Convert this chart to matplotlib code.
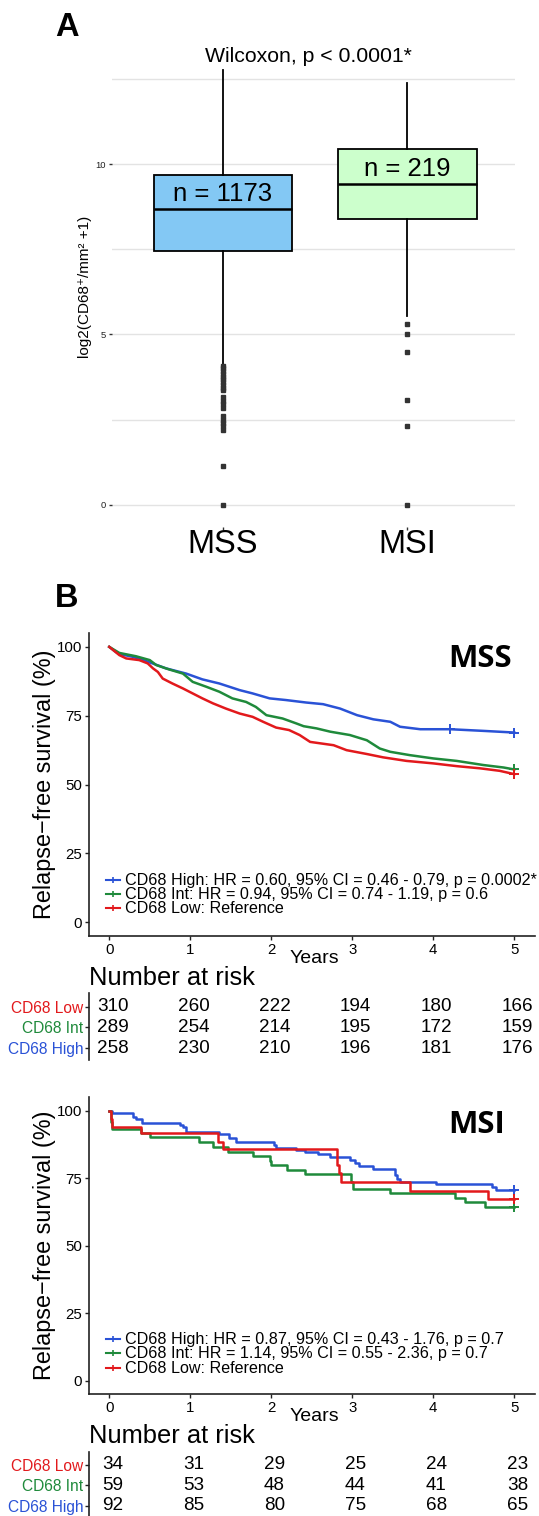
import numpy as np
import matplotlib
matplotlib.use('Agg')
import matplotlib.pyplot as plt
from matplotlib.lines import Line2D

plt.rcParams['font.family'] = ['Liberation Sans', 'DejaVu Sans']

W, H = 539, 1516
DPI = 100

# ---------------- Panel A data ----------------
groups = ['MSS', 'MSI']
n_counts = [1173, 219]
q1 = [7.45, 8.40]
med = [8.68, 9.40]
q3 = [9.68, 10.43]
whislo = [4.13, 5.53]
whishi = [12.76, 12.37]
mss_outliers = [4.08, 4.0, 3.92, 3.84, 3.76, 3.68, 3.6, 3.52, 3.44, 3.36,
                 3.15, 3.05, 2.95, 2.85, 2.6, 2.5, 2.4, 2.3, 2.2, 1.13, 0.0]
msi_outliers = [5.31, 5.0, 4.49, 3.08, 2.30, 0.0]
box_colors = ['#83C8F4', '#CCFFCC']
wilcoxon_label = 'Wilcoxon, p < 0.0001*'

# ---------------- Panel B data ----------------
strata = ['CD68 High', 'CD68 Int', 'CD68 Low']
strata_colors = ['#2A52D6', '#1F8A3B', '#E2191C']

# MSS curves
mss_high_t = [0, 0.08, 0.125, 0.29, 0.45, 0.70, 0.95, 1.15, 1.36, 1.61, 1.77, 1.98,
              2.18, 2.43, 2.64, 2.85, 3.06, 3.26, 3.47, 3.59, 3.84, 4.21, 4.62, 5.0]
mss_high_s = [100, 98.2, 97.4, 96.4, 94.9, 92.2, 90.3, 88.2, 86.7, 84.3, 83.1, 81.3,
              80.7, 79.8, 79.2, 77.6, 75.2, 73.7, 72.8, 71.0, 70.1, 70.1, 69.5, 68.9]
mss_int_t = [0, 0.125, 0.33, 0.50, 0.58, 0.74, 0.91, 1.03, 1.20, 1.36, 1.52, 1.69,
             1.81, 1.94, 2.14, 2.31, 2.40, 2.56, 2.73, 2.97, 3.18, 3.34, 3.47, 3.71,
             4.0, 4.29, 4.62, 4.87, 5.0]
mss_int_s = [100, 97.8, 96.6, 95.2, 93.4, 91.8, 90.3, 87.3, 85.5, 83.7, 81.3, 80.0,
             78.2, 75.2, 74.0, 72.2, 71.2, 70.4, 69.2, 68.0, 66.1, 63.1, 61.9, 60.7,
             59.5, 58.6, 57.1, 56.2, 55.5]
mss_low_t = [0, 0.125, 0.21, 0.37, 0.475, 0.54, 0.60, 0.66, 0.78, 0.91, 1.03, 1.15,
             1.28, 1.44, 1.61, 1.77, 1.90, 2.06, 2.22, 2.35, 2.48, 2.77, 2.93, 3.18,
             3.38, 3.67, 4.0, 4.29, 4.58, 4.82, 5.0]
mss_low_s = [100, 97.0, 95.8, 95.2, 94.0, 92.2, 90.9, 88.5, 86.7, 84.9, 83.1, 81.3,
             79.5, 77.6, 75.8, 74.6, 72.8, 70.7, 69.8, 68.0, 65.5, 64.3, 62.5, 61.1,
             59.9, 58.6, 57.7, 56.7, 55.9, 55.0, 53.8]
mss_censor_t = [[4.21, 5.0], [5.0], [5.0]]
mss_censor_s = [[70.1, 68.9], [55.5], [53.8]]

# MSI curves (step functions)
msi_high_t = [0, 0.04, 0.29, 0.33, 0.41, 0.87, 0.91, 0.95, 1.36, 1.48, 1.57, 2.04,
              2.06, 2.30, 2.42, 2.58, 2.73, 2.97, 3.03, 3.08, 3.26, 3.53, 3.55, 3.59,
              4.04, 4.72, 4.78, 5.0]
msi_high_s = [100, 99.0, 97.8, 96.8, 95.6, 94.7, 93.8, 92.2, 91.3, 90.0, 88.3, 87.3,
              86.1, 85.4, 84.8, 84.0, 82.7, 81.7, 80.5, 79.5, 78.3, 76.2, 74.6, 73.7,
              72.9, 71.9, 70.6, 70.6]
msi_int_t = [0, 0.02, 0.03, 0.39, 0.50, 1.11, 1.28, 1.46, 1.77, 1.98, 2.00, 2.20,
             2.42, 2.99, 3.01, 3.47, 4.27, 4.39, 4.64, 5.0]
msi_int_s = [100, 96.0, 93.1, 91.6, 90.1, 88.5, 86.7, 84.8, 83.2, 81.5, 79.9, 78.0,
             76.4, 73.7, 71.0, 69.4, 67.5, 66.3, 64.4, 64.4]
msi_low_t = [0, 0.02, 0.04, 0.39, 1.34, 1.40, 2.81, 2.84, 2.86, 3.71, 4.68, 5.0]
msi_low_s = [100, 96.9, 94.1, 91.6, 88.5, 85.7, 79.9, 76.8, 73.5, 70.4, 67.4, 67.4]
msi_censor_t = [[5.0], [5.0], [5.0]]
msi_censor_s = [[70.6], [64.4], [67.4]]

risk_times = [0, 1, 2, 3, 4, 5]
mss_risk_low = [310, 260, 222, 194, 180, 166]
mss_risk_int = [289, 254, 214, 195, 172, 159]
mss_risk_high = [258, 230, 210, 196, 181, 176]
msi_risk_low = [34, 31, 29, 25, 24, 23]
msi_risk_int = [59, 53, 48, 44, 41, 38]
msi_risk_high = [92, 85, 80, 75, 68, 65]

mss_legend = ['CD68 High: HR = 0.60, 95% CI = 0.46 - 0.79, p = 0.0002*',
              'CD68 Int: HR = 0.94, 95% CI = 0.74 - 1.19, p = 0.6',
              'CD68 Low: Reference']
msi_legend = ['CD68 High: HR = 0.87, 95% CI = 0.43 - 1.76, p = 0.7',
              'CD68 Int: HR = 1.14, 95% CI = 0.55 - 2.36, p = 0.7',
              'CD68 Low: Reference']

# ---------------- helpers ----------------
fig = plt.figure(figsize=(W / DPI, H / DPI), dpi=DPI)


def add_ax(l, t, r, b):
    return fig.add_axes([l / W, 1 - b / H, (r - l) / W, (b - t) / H])


def ftext(x, y, s, **kw):
    return fig.text(x / W, 1 - y / H, s, **kw)


# ================= Panel A =================
axA = add_ax(112.3, 48.2, 514.5, 526.5)
stats = []
outs = [mss_outliers, msi_outliers]
for i in range(2):
    stats.append(dict(med=med[i], q1=q1[i], q3=q3[i], whislo=whislo[i],
                      whishi=whishi[i], fliers=outs[i], label=groups[i]))
bp = axA.bxp(stats, positions=[1, 2], widths=0.75, patch_artist=True,
             showcaps=False,
             boxprops=dict(linewidth=1.3, edgecolor='black'),
             medianprops=dict(color='black', linewidth=1.8),
             whiskerprops=dict(color='black', linewidth=1.3),
             flierprops=dict(marker='s', markersize=3.2, markerfacecolor='#333333',
                             markeredgecolor='#333333', linestyle='none'))
for patch, c in zip(bp['boxes'], box_colors):
    patch.set_facecolor(c)
axA.set_xlim(0.4, 2.58)
axA.set_ylim(-0.64, 13.4)
axA.set_yticks([0, 5, 10])
axA.set_yticks([2.5, 7.5, 12.5], minor=True)
axA.grid(True, which='both', axis='y', color='#E3E3E3', linewidth=1.0)
axA.set_axisbelow(True)
for sp in axA.spines.values():
    sp.set_visible(False)
axA.tick_params(axis='y', which='major', labelsize=6.8, length=2.5, width=1.0,
                color='#333333', labelcolor='#222222', pad=2)
axA.tick_params(axis='y', which='minor', length=0)
axA.tick_params(axis='x', labelsize=23.5, length=2.5, width=1.0, color='#333333',
                pad=-1)
axA.set_xticks([1, 2])
axA.set_xticklabels(groups)
for i in range(2):
    axA.text(i + 1, [9.12, 9.85][i], f'n = {n_counts[i]}', ha='center',
             va='center', fontsize=18.5)
ftext(84.5, 287, 'log2(CD68\u207a/mm\u00b2 +1)', rotation=90, ha='center',
      va='center', fontsize=11)
ftext(308, 57, wilcoxon_label, ha='center', va='center', fontsize=15.3)
ftext(67, 28, 'A', ha='center', va='center', fontsize=23.5, fontweight='bold')
ftext(67, 598, 'B', ha='center', va='center', fontsize=23.5, fontweight='bold')


# ================= Panel B =================
def km_panel(top, bottom, curves_t, curves_s, cens_t, cens_s, stepped, title,
             title_xy, legend, legend_rows, years_y):
    ax = add_ax(89, top, 534.5, bottom)
    for t, s, ct, cs, c in zip(curves_t, curves_s, cens_t, cens_s, strata_colors):
        if stepped:
            ax.step(t, s, where='post', color=c, linewidth=1.8)
        else:
            ax.plot(t, s, color=c, linewidth=1.8)
        ax.plot(ct, cs, linestyle='none', marker='+', markersize=7,
                markeredgewidth=1.4, color=c)
    ax.set_xlim(-0.25, 5.25)
    ax.set_ylim(-5, 105)
    ax.set_xticks(risk_times)
    ax.set_yticks([0, 25, 50, 75, 100])
    for sp in ['top', 'right']:
        ax.spines[sp].set_visible(False)
    for sp in ['left', 'bottom']:
        ax.spines[sp].set_linewidth(1.2)
        ax.spines[sp].set_color('#222222')
    ax.tick_params(labelsize=10.8, length=3, width=1.0, color='#222222', pad=2)
    ftext(title_xy[0], title_xy[1], title, ha='center', va='center',
          fontsize=22.5, fontweight='bold', family='Open Sans')
    ftext(45, (top + bottom) / 2, 'Relapse\u2212free survival (%)', rotation=90,
          ha='center', va='center', fontsize=16.8)
    ftext(314, years_y, 'Years', ha='center', va='center', fontsize=14)
    for lab, y, c in zip(legend, legend_rows, strata_colors):
        fig.add_artist(Line2D([106.4 / W, 120 / W], [1 - y / H, 1 - y / H],
                              color=c, linewidth=1.5))
        fig.add_artist(Line2D([113.2 / W], [1 - y / H], color=c, marker='+',
                              markersize=5, markeredgewidth=1.2))
        ftext(125.3, y + 0.5, lab, ha='left', va='center', fontsize=11.65)
    return ax


def risk_table(top, bottom, ylim, rows, nar_y):
    ax = add_ax(89, top, 534.5, bottom)
    ax.set_xlim(-0.25, 5.25)
    ax.set_ylim(*ylim)
    for yi, vals in enumerate(rows):
        for t, v in zip(risk_times, vals):
            ax.text(t + 0.04, yi, str(v), ha='center', va='center', fontsize=13.6)
    ax.set_yticks([0, 1, 2])
    ax.set_yticklabels(strata)
    for lab, c in zip(ax.get_yticklabels(), strata_colors):
        lab.set_color(c)
    ax.set_xticks([])
    for sp in ['top', 'right', 'bottom']:
        ax.spines[sp].set_visible(False)
    ax.spines['left'].set_linewidth(1.2)
    ax.spines['left'].set_color('#222222')
    ax.tick_params(axis='y', labelsize=11.2, length=3, width=1.0,
                   color='#222222', pad=1)
    ftext(89, nar_y, 'Number at risk', ha='left', va='baseline', fontsize=18.4)
    return ax


km_panel(633.1, 936.1, [mss_high_t, mss_int_t, mss_low_t],
         [mss_high_s, mss_int_s, mss_low_s], mss_censor_t, mss_censor_s, False,
         'MSS', (480, 659), mss_legend, [880, 894.3, 908.3], 958.5)
risk_table(993, 1060, (-0.58, 2.66),
           [mss_risk_high, mss_risk_int, mss_risk_low], 985)

km_panel(1097.2, 1394.2, [msi_high_t, msi_int_t, msi_low_t],
         [msi_high_s, msi_int_s, msi_low_s], msi_censor_t, msi_censor_s, True,
         'MSI', (476.5, 1125), msi_legend, [1339.3, 1353.3, 1367.7], 1416.7)
risk_table(1452, 1516, (-0.49, 2.63),
           [msi_risk_high, msi_risk_int, msi_risk_low], 1443.3)

fig.savefig('out.png', dpi=DPI)
